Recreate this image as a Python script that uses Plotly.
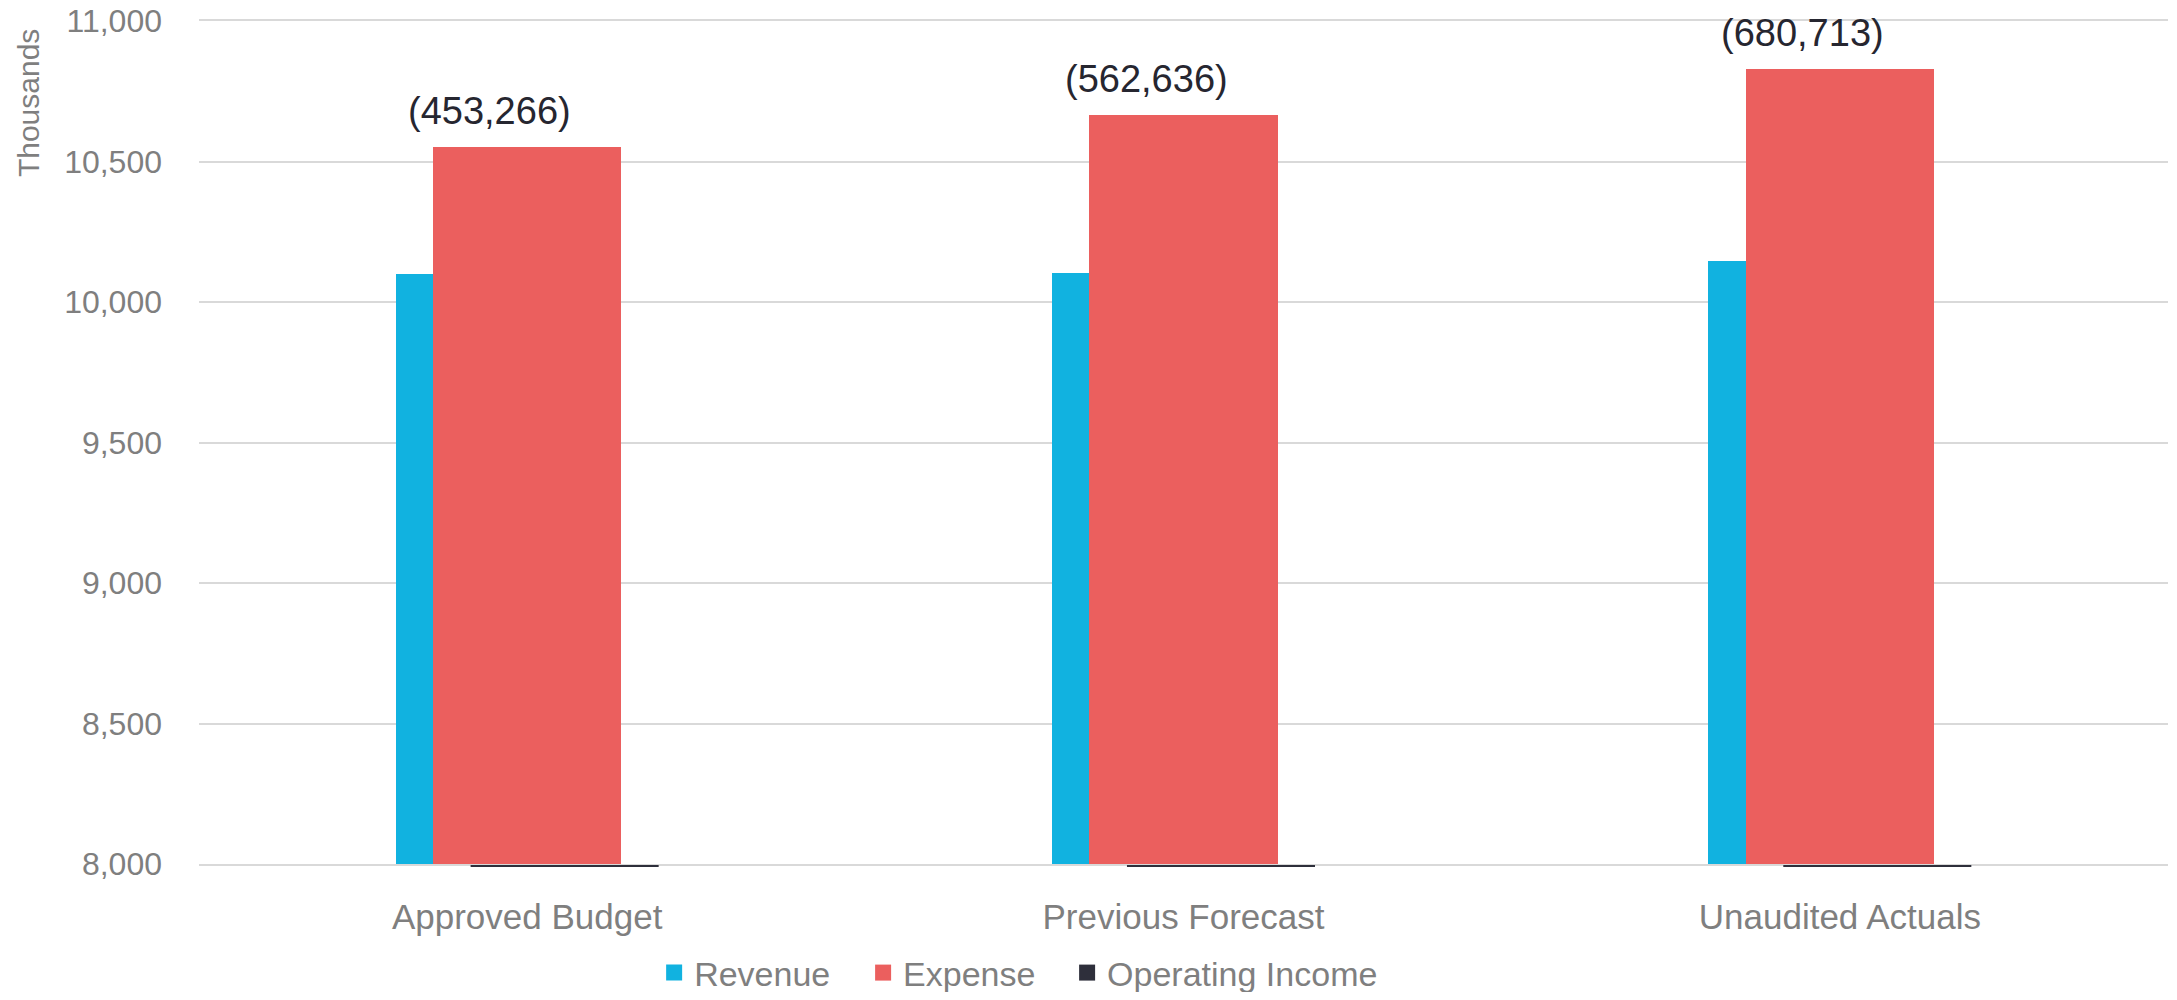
import plotly.graph_objects as go

# ---- data (values in thousands except operating income labels, in dollars) ----
categories = ["Approved Budget", "Previous Forecast", "Unaudited Actuals"]
revenue = [10100, 10103, 10147]
expense = [10553, 10666, 10828]
operating_income = [-453266, -562636, -680713]
y_ticks = [8000, 8500, 9000, 9500, 10000, 10500, 11000]

# ---- styling ----
FONT = "Liberation Sans"
GREY = "#7f7f7f"
C_REV = "#11B2E0"
C_EXP = "#EB5F5E"
C_OI = "#2E2F3B"
BAR_W = 0.2865
STEP = 0.0571
Y_MIN, Y_MAX = 8000, 11000
LEGEND_X = [0.299, 0.3957, 0.4901]

series = [("Revenue", revenue, C_REV, -BAR_W / 2 - STEP),
          ("Expense", expense, C_EXP, -BAR_W / 2)]
oi_thousands = [v / 1000 for v in operating_income]
series.append(("Operating Income", oi_thousands, C_OI, -BAR_W / 2 + STEP))

fig = go.Figure()
for name, vals, col, off in series:
    fig.add_trace(go.Bar(name=name, x=categories, y=vals, width=BAR_W, offset=off,
                         marker=dict(color=col, line_width=0), showlegend=False))
# legend entries with larger square keys (one legend box per entry)
legend_ids = ["legend", "legend2", "legend3"]
for (name, vals, col, off), lid in zip(series, legend_ids):
    fig.add_trace(go.Scatter(name=name, x=[None], y=[None], mode="markers",
                             marker=dict(symbol="square", size=20, color=col),
                             showlegend=True, legend=lid))

# bars entirely below the axis minimum are shown clipped to a thin line at the axis
for i, v in enumerate(oi_thousands):
    if v < Y_MIN:
        fig.add_shape(type="rect", xref="x", yref="paper",
                      x0=i - BAR_W / 2 + STEP, x1=i + BAR_W / 2 + STEP,
                      ysizemode="pixel", yanchor=0, y0=-1, y1=-3,
                      fillcolor=C_OI, line_width=0, layer="above")

# data labels (operating income) above the bars
for i, (e, oi) in enumerate(zip(expense, operating_income)):
    txt = f"({abs(oi):,})" if oi < 0 else f"{oi:,}"
    fig.add_annotation(x=i - STEP, y=e, xref="x", yref="y", text=txt, showarrow=False,
                       yanchor="bottom", yshift=13,
                       font=dict(family=FONT, size=38, color="#262630"))

fig.add_annotation(text="Thousands", xref="paper", yref="paper", x=-0.0868, y=0.9027,
                   xanchor="center", yanchor="middle", textangle=-90, showarrow=False,
                   font=dict(family=FONT, size=30, color=GREY))

legend_style = dict(orientation="h", xref="container", yref="paper",
                    y=-0.1293, xanchor="left", yanchor="middle",
                    font=dict(family=FONT, size=34, color=GREY), itemwidth=30,
                    itemsizing="trace", bgcolor="rgba(0,0,0,0)")
layout_legends = {lid: dict(legend_style, x=lx) for lid, lx in zip(legend_ids, LEGEND_X)}

fig.update_layout(
    width=2161, height=984,
    margin=dict(l=191, r=1, t=13, b=128, autoexpand=False),
    barmode="overlay",
    paper_bgcolor="white", plot_bgcolor="white",
    font=dict(family=FONT, color=GREY),
    showlegend=True,
    bargap=0,
    **layout_legends,
)
fig.update_xaxes(type="category", showgrid=False, showline=True, mirror=True,
                 linecolor="#d9d9d9", linewidth=2, ticks="",
                 tickfont=dict(family=FONT, size=35, color=GREY),
                 ticklabelstandoff=21, range=[-0.5, 2.5], fixedrange=True)
fig.update_yaxes(range=[Y_MIN, Y_MAX], tickvals=y_ticks, tickformat=",",
                 showgrid=True, gridcolor="#d9d9d9", gridwidth=2,
                 zeroline=False, showline=False, ticks="",
                 tickfont=dict(family=FONT, size=32, color=GREY),
                 ticklabelstandoff=36, ticklabeloverflow="allow", fixedrange=True)

fig.write_html("out.html")
